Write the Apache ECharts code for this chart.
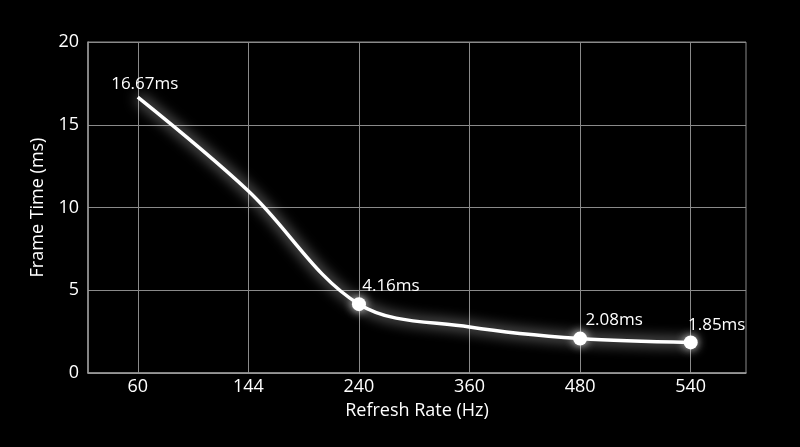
<!DOCTYPE html>
<html>
<head>
<meta charset="utf-8">
<script src="https://cdn.jsdelivr.net/npm/echarts@6/dist/echarts.min.js"></script>
<style>
html,body{margin:0;padding:0;background:#000;}
#c{width:800px;height:447px;}
</style>
</head>
<body>
<div id="c"></div>
<script>
const categories = ['60', '144', '240', '360', '480', '540'];
const frameTimes = [16.67, 11.0, 4.16, 2.78, 2.08, 1.85];
const labelTexts = ['16.67ms', '', '4.16ms', '', '2.08ms', '1.85ms'];
const markerShown = [false, false, true, false, true, true];
const yTicks = [0, 5, 10, 15, 20];

const FONT = '"Open Sans"';
const labelOffsets = [[7, 1], [0, 0], [32, 3], [0, 0], [34, 2], [26, 3]];

const idx = categories.map((c, i) => i);
const seriesData = frameTimes.map((v, i) => ({
  value: [idx[i], v],
  symbolSize: markerShown[i] ? 14 : 0,
  label: {
    show: labelTexts[i] !== '',
    formatter: labelTexts[i] || ' ',
    position: 'top',
    offset: labelOffsets[i]
  }
}));

const chart = echarts.init(document.getElementById('c'), null, {renderer: 'canvas'});
chart.setOption({
  backgroundColor: '#000',
  animation: false,
  grid: {
    left: 88, right: 54, top: 42, bottom: 74,
    show: true, borderColor: '#8a8a8a', borderWidth: 1
  },
  xAxis: {
    type: 'value',
    min: -0.45, max: 5.5,
    name: 'Refresh Rate (Hz)',
    nameLocation: 'middle',
    nameGap: 29,
    nameTextStyle: {color: '#fff', fontSize: 18, fontFamily: FONT},
    axisLine: {show: true, onZero: false, lineStyle: {color: '#9a9a9a', width: 1.5}},
    axisTick: {show: false, customValues: idx},
    axisLabel: {
      customValues: idx,
      color: '#fff', fontSize: 18, fontFamily: FONT, margin: 5,
      formatter: v => categories[Math.round(v)] ?? ''
    },
    splitLine: {show: true, customValues: idx, lineStyle: {color: '#8a8a8a', width: 1}}
  },
  yAxis: {
    type: 'value',
    min: 0, max: 20, interval: 5,
    name: 'Frame Time (ms)',
    nameLocation: 'middle',
    nameGap: 41,
    nameTextStyle: {color: '#fff', fontSize: 18, fontFamily: FONT},
    axisLine: {show: true, onZero: false, lineStyle: {color: '#9a9a9a', width: 1.5}},
    axisTick: {show: false},
    axisLabel: {
      color: '#fff', fontSize: 18, fontFamily: FONT, margin: 9,
      formatter: v => yTicks.includes(v) ? String(v) : ''
    },
    splitLine: {show: true, lineStyle: {color: '#8a8a8a', width: 1}}
  },
  series: [{
    type: 'line',
    data: seriesData,
    smooth: 0.35,
    symbol: 'circle',
    showAllSymbol: true,
    lineStyle: {
      color: '#fff', width: 3.5,
      shadowColor: 'rgba(255,255,255,1)', shadowBlur: 14
    },
    itemStyle: {
      color: '#fff',
      shadowColor: 'rgba(255,255,255,0.9)', shadowBlur: 10
    },
    label: {color: '#fff', fontSize: 17, fontFamily: FONT},
    z: 5
  }]
});
</script>
</body>
</html>
